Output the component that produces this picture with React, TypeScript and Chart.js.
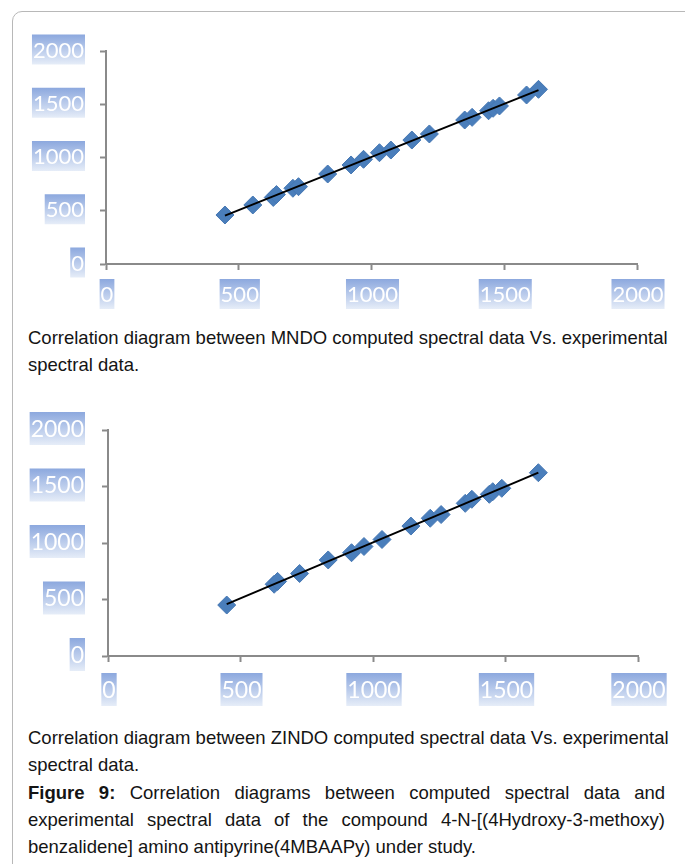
import React, { useEffect, useRef } from "react";
import { Chart, registerables } from "chart.js";

Chart.register(...registerables);

// Axis tick values (shared by both panels)
const axisTicks = [0, 500, 1000, 1500, 2000];

// MNDO panel: experimental (x) vs computed (y)
const mndoExperimental = [448, 553, 630, 642, 704, 725, 835, 923, 970, 1030, 1073, 1152, 1218, 1351, 1379, 1441, 1458, 1482, 1584, 1629];
const mndoComputed = [460, 554, 625, 652, 711, 726, 845, 930, 983, 1045, 1070, 1164, 1221, 1352, 1377, 1439, 1462, 1484, 1587, 1640];

// ZINDO panel: experimental (x) vs computed (y)
const zindoExperimental = [448, 627, 640, 723, 831, 919, 966, 1034, 1143, 1216, 1257, 1348, 1373, 1439, 1452, 1486, 1624];
const zindoComputed = [451, 635, 660, 730, 850, 914, 969, 1031, 1150, 1219, 1252, 1351, 1387, 1431, 1454, 1484, 1622];

const caption1 = ["Correlation diagram between MNDO computed spectral data Vs. experimental", "spectral data."];
const caption2 = ["Correlation diagram between ZINDO computed spectral data Vs. experimental", "spectral data."];
const figureLabel = "Figure 9:";
const figureLines = [
  " Correlation diagrams between computed spectral data and",
  "experimental spectral data of the compound 4-N-[(4Hydroxy-3-methoxy)",
  "benzalidene] amino antipyrine(4MBAAPy) under study.",
];

const MARKER_COLOR = "#4a7ebb";
const AXIS_COLOR = "#8a8a8a";

function fitLine(xs: number[], ys: number[]) {
  const n = xs.length;
  let sx = 0, sy = 0, sxx = 0, sxy = 0;
  for (let i = 0; i < n; i++) {
    sx += xs[i]; sy += ys[i]; sxx += xs[i] * xs[i]; sxy += xs[i] * ys[i];
  }
  const b = (n * sxy - sx * sy) / (n * sxx - sx * sx);
  const a = (sy - b * sx) / n;
  const x0 = Math.min(...xs);
  const x1 = Math.max(...xs);
  return [{ x: x0, y: a + b * x0 }, { x: x1, y: a + b * x1 }];
}

const labelBoxPlugin = {
  id: "labelBoxes",
  afterDraw(chart: any, _args: any, opts: any) {
    const ctx = chart.ctx as CanvasRenderingContext2D;
    const xs = chart.scales.x;
    const ys = chart.scales.y;
    ctx.save();
    ctx.font = opts.font;
    ctx.textBaseline = "middle";
    const h = opts.boxHeight;
    const drawBox = (left: number, top: number, w: number, label: string) => {
      const g = ctx.createLinearGradient(0, top, 0, top + h);
      g.addColorStop(0, "#8ca8de");
      g.addColorStop(1, "#e6edf8");
      ctx.fillStyle = g;
      ctx.fillRect(left, top, w, h);
      ctx.fillStyle = "#ffffff";
      ctx.textAlign = "center";
      ctx.fillText(label, left + w / 2, top + h / 2 + 1);
    };
    ys.ticks.forEach((t: any) => {
      const label = String(t.value);
      const w = ctx.measureText(label).width + opts.padX * 2;
      const py = ys.getPixelForValue(t.value);
      const right = ys.right - opts.yGap;
      drawBox(right - w, py - h / 2 + opts.yShift, w, label);
    });
    xs.ticks.forEach((t: any) => {
      const label = String(t.value);
      const w = ctx.measureText(label).width + opts.padX * 2;
      const px = xs.getPixelForValue(t.value);
      drawBox(px - w / 2 + opts.xShift, xs.top + opts.xGap, w, label);
    });
    ctx.restore();
  },
};

type Area = { left: number; right: number; top: number; bottom: number };

function ScatterPanel(props: {
  xs: number[];
  ys: number[];
  top: number;
  height: number;
  area: Area;
  font: string;
  boxHeight: number;
  yGap: number;
  xGap: number;
}) {
  const ref = useRef<HTMLCanvasElement>(null);
  const { xs, ys, top, height, area, font, boxHeight, yGap, xGap } = props;
  useEffect(() => {
    if (!ref.current) return;
    const points = xs.map((x, i) => ({ x, y: ys[i] }));
    const axisCommon = {
      type: "linear" as const,
      min: 0,
      max: 2000,
      afterBuildTicks: (s: any) => {
        s.ticks = axisTicks.map((v) => ({ value: v }));
      },
      ticks: { display: false },
      grid: {
        display: true,
        drawOnChartArea: false,
        drawTicks: true,
        tickLength: 6,
        tickColor: AXIS_COLOR,
        tickWidth: 2,
        color: AXIS_COLOR,
      },
      border: { display: true, color: AXIS_COLOR, width: 2 },
    };
    const chart = new Chart(ref.current, {
      type: "scatter",
      data: {
        datasets: [
          {
            data: fitLine(xs, ys),
            showLine: true,
            borderColor: "#000000",
            borderWidth: 2,
            pointRadius: 0,
            pointHoverRadius: 0,
          },
          {
            data: points,
            pointStyle: "rectRot",
            pointRadius: 9,
            pointHoverRadius: 9,
            backgroundColor: MARKER_COLOR,
            borderColor: "#4577b3",
            borderWidth: 1,
          },
        ],
      },
      options: {
        responsive: false,
        animation: false,
        devicePixelRatio: 1,
        events: [],
        layout: {
          padding: { top: area.top, right: 685 - area.right, left: 0, bottom: 0 },
        },
        scales: {
          x: {
            ...axisCommon,
            position: "bottom",
            afterFit: (s: any) => {
              s.height = height - area.bottom;
            },
          },
          y: {
            ...axisCommon,
            position: "left",
            afterFit: (s: any) => {
              s.width = area.left;
            },
          },
        },
        plugins: {
          legend: { display: false },
          tooltip: { enabled: false },
          labelBoxes: { font, boxHeight, padX: 1, yGap, xGap, yShift: -1.5, xShift: 1 },
        } as any,
      },
      plugins: [labelBoxPlugin],
    } as any);
    return () => chart.destroy();
  }, []);
  return (
    <canvas
      ref={ref}
      width={685}
      height={height}
      style={{ position: "absolute", left: 0, top, width: 685, height }}
    />
  );
}

const captionStyle: React.CSSProperties = {
  position: "absolute",
  left: 28,
  width: 640,
  fontSize: 18.5,
  lineHeight: "27px",
  color: "#141414",
  whiteSpace: "nowrap",
};

export default function App() {
  return (
    <div
      style={{
        position: "absolute",
        left: 0,
        top: 0,
        width: 685,
        height: 864,
        overflow: "hidden",
        background: "#ffffff",
        fontFamily: "'Liberation Sans', Arial, sans-serif",
      }}
    >
      <div
        style={{
          position: "absolute",
          left: 12,
          top: 11,
          width: 740,
          height: 920,
          border: "1px solid #b8b8b8",
          borderRadius: 10,
          boxSizing: "border-box",
        }}
      />
      <ScatterPanel
        xs={mndoExperimental}
        ys={mndoComputed}
        top={0}
        height={320}
        area={{ left: 106, right: 637, top: 51, bottom: 264 }}
        font="22px Lato, 'Open Sans', sans-serif"
        boxHeight={30}
        yGap={21}
        xGap={15}
      />
      <div style={{ ...captionStyle, top: 324 }}>
        {caption1.map((l, i) => (
          <div key={i}>{l}</div>
        ))}
      </div>
      <ScatterPanel
        xs={zindoExperimental}
        ys={zindoComputed}
        top={380}
        height={340}
        area={{ left: 108, right: 638, top: 50, bottom: 276 }}
        font="23px Lato, 'Open Sans', sans-serif"
        boxHeight={33}
        yGap={23}
        xGap={17}
      />
      <div style={{ ...captionStyle, top: 723.5 }}>
        {caption2.map((l, i) => (
          <div key={i}>{l}</div>
        ))}
      </div>
      <div style={{ ...captionStyle, top: 778.5, width: 637, whiteSpace: "normal" }}>
        <div style={{ textAlign: "justify", textAlignLast: "justify" }}>
          <b>{figureLabel}</b>
          {figureLines[0]}
        </div>
        <div style={{ textAlign: "justify", textAlignLast: "justify" }}>{figureLines[1]}</div>
        <div>{figureLines[2]}</div>
      </div>
    </div>
  );
}
